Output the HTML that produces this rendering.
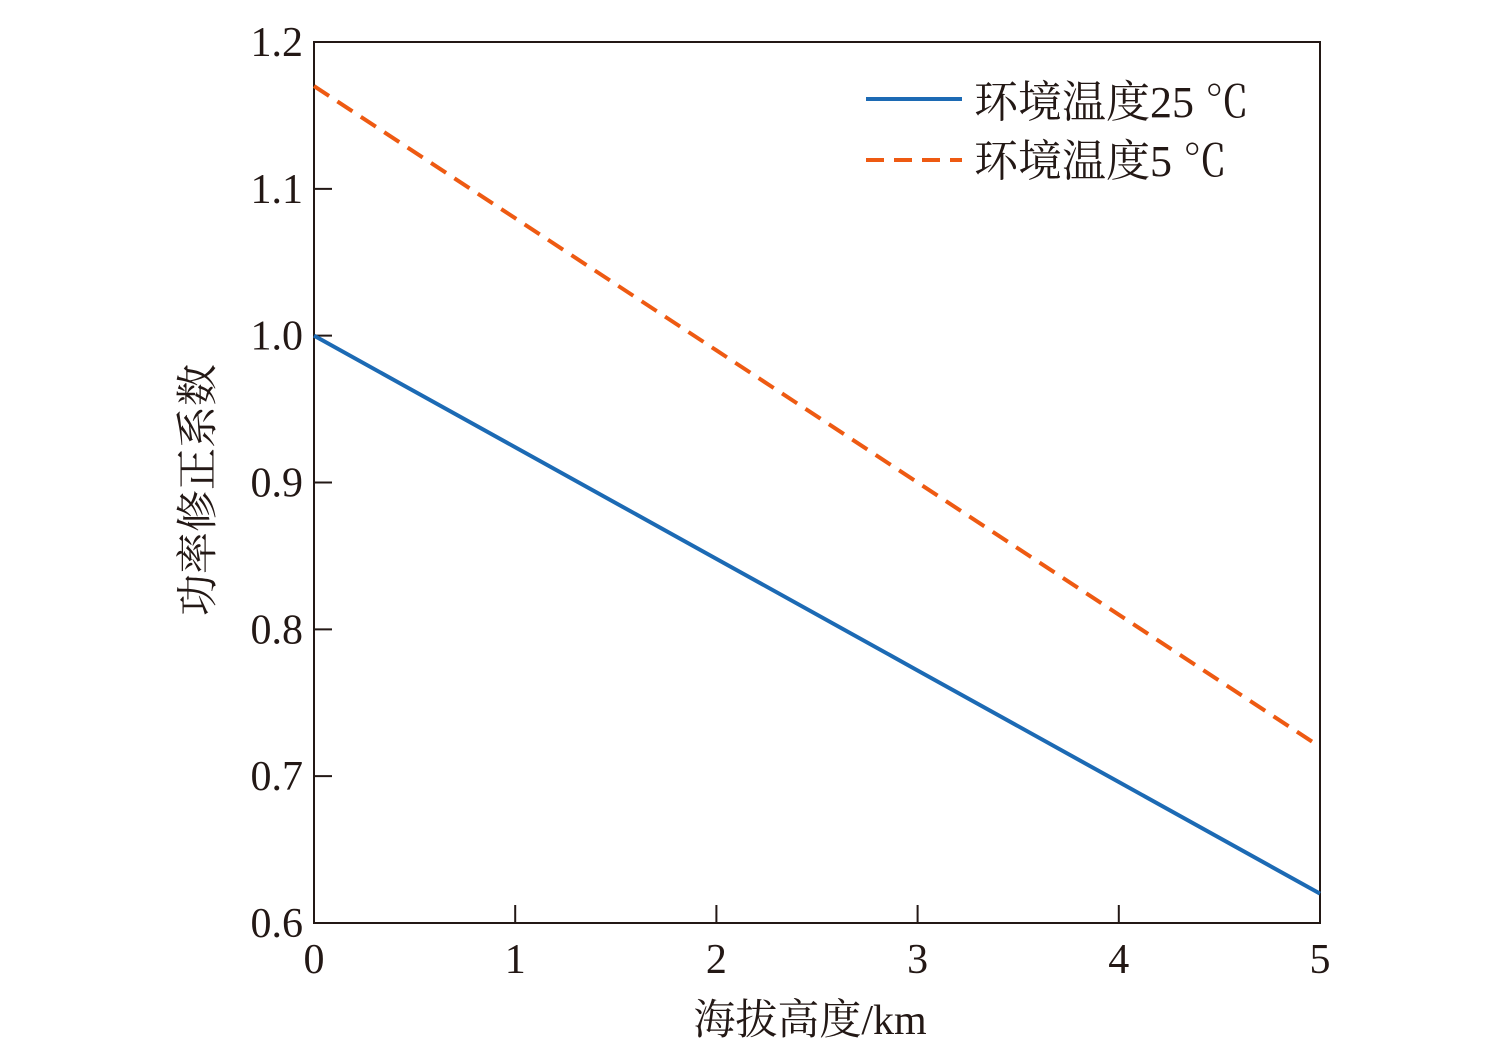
<!DOCTYPE html>
<html><head><meta charset="utf-8"><style>
body{margin:0;background:#fff;}
svg{display:block;}
text{font-family:"Liberation Serif","Noto Serif CJK SC",serif;fill:#231815;}
</style></head><body>
<svg id="chart" width="1500" height="1053" viewBox="0 0 1500 1053">
<rect x="314" y="42" width="1006" height="881" fill="none" stroke="#231815" stroke-width="2"/>
<g id="ticks"></g>
<g id="series"></g>
<text x="810" y="1034" font-size="42" text-anchor="middle">海拔高度/km</text>
<text transform="translate(212,490) rotate(-90)" font-size="42" text-anchor="middle">功率修正系数</text>
<g>
<line x1="866" y1="99" x2="962" y2="99" stroke="#1c6ab4" stroke-width="4"/>
<text x="974" y="117" font-size="44">环境温度25 ℃</text>
<line x1="866" y1="160" x2="962" y2="160" stroke="#ee5a12" stroke-width="4" stroke-dasharray="18,10"/>
<text x="974" y="176" font-size="44">环境温度5 ℃</text>
</g>
</svg>
<script>
const xValues=[0,1,2,3,4,5];
const series25=[1.0,0.924,0.848,0.772,0.696,0.62];
const series5=[1.17,1.08,0.99,0.90,0.81,0.72];
const xTicks=[0,1,2,3,4,5];
const yTicks=[0.6,0.7,0.8,0.9,1.0,1.1,1.2];
const yTickLabels=["0.6","0.7","0.8","0.9","1.0","1.1","1.2"];
const NS="http://www.w3.org/2000/svg";
const X0=314,X1=1320,Y0=923,Y1=42;
function sx(v){return X0+(v-0)/(5-0)*(X1-X0);}
function sy(v){return Y0-(v-0.6)/(1.2-0.6)*(Y0-Y1);}
const tg=document.getElementById('ticks');
xTicks.forEach(t=>{
  if(t>0&&t<5){const l=document.createElementNS(NS,'line');
  l.setAttribute('x1',sx(t));l.setAttribute('x2',sx(t));l.setAttribute('y1',Y0);l.setAttribute('y2',Y0-18);
  l.setAttribute('stroke','#231815');l.setAttribute('stroke-width','2');
  
  
  tg.appendChild(l);}
  const tx=document.createElementNS(NS,'text');
  tx.setAttribute('x',sx(t));tx.setAttribute('y',973);tx.setAttribute('font-size','42');tx.setAttribute('text-anchor','middle');
  tx.textContent=String(t);
  
  
  tg.appendChild(tx);
});
yTicks.forEach((t,i)=>{
  if(i>0&&i<yTicks.length-1){const l=document.createElementNS(NS,'line');
  l.setAttribute('x1',X0);l.setAttribute('x2',X0+18);l.setAttribute('y1',sy(t));l.setAttribute('y2',sy(t));
  l.setAttribute('stroke','#231815');l.setAttribute('stroke-width','2');
  
  
  tg.appendChild(l);}
  const tx=document.createElementNS(NS,'text');
  tx.setAttribute('x',303);tx.setAttribute('y',sy(t)+14);tx.setAttribute('font-size','42');tx.setAttribute('text-anchor','end');
  tx.textContent=yTickLabels[i];
  
  
  tg.appendChild(tx);
});
const sg=document.getElementById('series');
function addLine(vals,color,dash,name){
  const p=document.createElementNS(NS,'polyline');
  p.setAttribute('points',vals.map((v,i)=>sx(xValues[i])+','+sy(v)).join(' '));
  p.setAttribute('fill','none');p.setAttribute('stroke',color);p.setAttribute('stroke-width','4');
  if(dash)p.setAttribute('stroke-dasharray',dash);
  
  
  sg.appendChild(p);
}
addLine(series25,'#1c6ab4',null,'line-25c');
addLine(series5,'#ee5a12','18,10','line-5c');
</script>
</body></html>
